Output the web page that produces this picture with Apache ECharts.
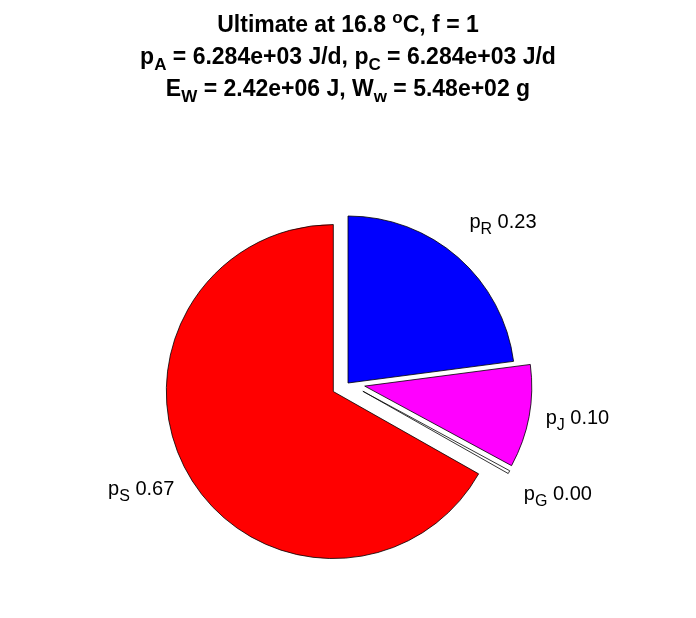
<!DOCTYPE html>
<html>
<head>
<meta charset="utf-8">
<script src="https://cdn.jsdelivr.net/npm/echarts@6/dist/echarts.min.js"></script>
<style>
html,body{margin:0;padding:0;background:#fff;}
#chart{width:696px;height:618px;}
</style>
</head>
<body>
<div id="chart"></div>
<script>
// Data (clockwise from 12 o'clock)
const sliceNames = ['R', 'J', 'G', 'S'];
const sliceValues = [0.23, 0.10, 0.003, 0.67];
const sliceColors = ['#0000FF', '#FF00FF', '#FFFFFF', '#FF0000'];
const sliceExploded = [false, true, true, true];
const titleLines = [
  'Ultimate at 16.8 {sup|o}C, f = 1',
  'p{sub|A} = 6.284e+03 J/d, p{sub|C} = 6.284e+03 J/d',
  'E{sub|W} = 2.42e+06 J, W{sub|w} = 5.48e+02 g'
];

// label vertical nudges (style only)
const labelNudgeY = [-22, -1, 14, 5];

const chart = echarts.init(document.getElementById('chart'), null, {renderer: 'canvas'});
const FONT = '"Liberation Sans", Arial, Helvetica, sans-serif';

chart.setOption({
  backgroundColor: '#ffffff',
  animation: false,
  title: {
    text: titleLines.join('\n'),
    left: 'center',
    top: 5,
    textStyle: {
      fontFamily: FONT,
      fontWeight: 'bold',
      fontSize: 23,
      lineHeight: 32,
      color: '#000',
      rich: {
        sub: {fontFamily: FONT, fontWeight: 'bold', fontSize: 17, lineHeight: 7, verticalAlign: 'bottom', color: '#000'},
        sup: {fontFamily: FONT, fontWeight: 'bold', fontSize: 17, lineHeight: 18, verticalAlign: 'top', color: '#000'}
      }
    }
  },
  series: [{
    type: 'pie',
    center: [348, 383],
    radius: [0, 167],
    startAngle: 90,
    clockwise: true,
    selectedMode: 'multiple',
    selectedOffset: 17,
    avoidLabelOverlap: false,
    emphasis: {disabled: true},
    itemStyle: {borderColor: '#000', borderWidth: 0.8},
    label: {
      show: true,
      position: 'outside',
      distanceToLabelLine: 0,
      fontFamily: FONT,
      fontSize: 20,
      lineHeight: 30,
      color: '#000',
      formatter: function (p) {
        return 'p{sub|' + sliceNames[p.dataIndex] + '} ' + sliceValues[p.dataIndex].toFixed(2);
      },
      rich: {
        sub: {fontFamily: FONT, fontSize: 16, lineHeight: 9, verticalAlign: 'bottom', color: '#000'}
      }
    },
    labelLine: {show: false, length: 17, length2: 0},
    labelLayout: function (params) {
      return {verticalAlign: 'middle', dy: labelNudgeY[params.dataIndex]};
    },
    data: sliceValues.map((v, i) => ({
      value: v,
      name: sliceNames[i],
      selected: sliceExploded[i],
      itemStyle: {color: sliceColors[i]}
    }))
  }]
});
</script>
</body>
</html>
